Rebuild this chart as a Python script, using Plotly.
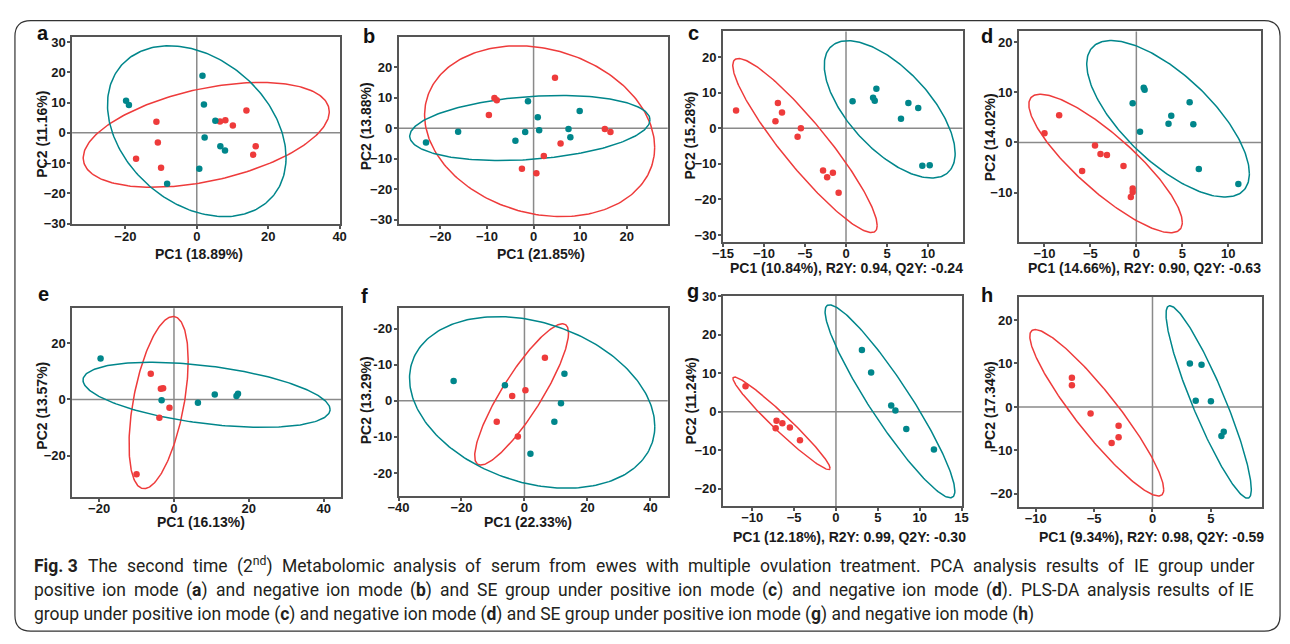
import re
import numpy as np
import plotly.graph_objects as go

W, H = 1290, 644
RED, TEAL = "#EE3B3B", "#00868B"

# ---------------- data ----------------
a_red_x = [-11.3, -10.9, -17.0, -10.0, 6.5, 8.0, 10.1, 13.9, 16.5, 15.8]
a_red_y = [3.7, -3.2, -8.6, -11.5, 3.8, 4.2, 2.4, 7.4, -4.4, -7.2]
a_teal_x = [-19.8, -19.0, 1.6, 2.0, 5.2, 2.2, 6.6, 7.9, 0.7, -8.3]
a_teal_y = [10.6, 9.2, 18.9, 9.4, 4.0, -1.5, -4.4, -5.8, -11.9, -16.8]
# ellipses: [xmin, xmax, ymin, ymax, cos(phase)]
a_red_ell = [-31.8, 37.1, -18.0, 16.7, 0.44]
a_teal_ell = [-25.0, 25.0, -27.7, 28.8, -0.31]

b_red_x = [4.6, -8.4, -7.9, -9.6, 15.3, 16.5, 5.8, 2.2, -2.5, 0.6]
b_red_y = [16.6, 10.0, 9.2, 4.4, -0.2, -1.2, -5.0, -9.1, -13.3, -14.8]
b_teal_x = [-23.1, -16.2, -1.2, 0.9, -1.8, 1.2, -3.9, 9.9, 7.5, 7.9]
b_teal_y = [-4.7, -1.1, 8.9, 3.6, -1.2, -0.6, -4.1, 5.7, -0.2, -2.9]
b_red_ell = [-23.4, 26.0, -29.0, 27.1, -0.19]
b_teal_ell = [-26.6, 25.0, -10.6, 10.8, 0.25]

c_red_x = [-13.4, -8.3, -7.8, -8.6, -5.5, -5.9, -2.8, -1.6, -2.3, -0.9]
c_red_y = [5.0, 7.1, 4.4, 2.0, 0.0, -2.4, -11.9, -12.5, -13.8, -18.1]
c_teal_x = [0.8, 3.7, 3.3, 3.5, 7.6, 8.8, 6.7, 9.3, 10.2]
c_teal_y = [7.6, 11.1, 8.6, 7.7, 7.1, 5.7, 2.7, -10.5, -10.4]
c_red_ell = [-13.8, 3.8, -29.3, 19.6, -0.92]
c_teal_ell = [-2.65, 13.3, -14.0, 24.6, -0.64]

d_red_x = [-8.4, -10.0, -4.5, -3.9, -3.2, -5.9, -1.4, -0.4, -0.4, -0.6]
d_red_y = [5.4, 1.8, -0.6, -2.3, -2.5, -5.7, -4.7, -9.2, -9.9, -10.9]
d_teal_x = [0.8, 0.9, -0.4, 5.8, 3.8, 3.5, 6.2, 0.4, 6.8, 11.1]
d_teal_y = [10.9, 10.5, 7.8, 8.0, 5.3, 3.7, 3.6, 2.1, -5.3, -8.3]
d_red_ell = [-11.7, 5.0, -18.0, 9.6, -0.85]
d_teal_ell = [-5.4, 12.3, -10.9, 20.3, -0.70]

e_red_x = [-6.2, -3.5, -2.9, -1.2, -3.9, -10.0]
e_red_y = [9.1, 3.8, 4.0, -2.9, -6.5, -26.5]
e_teal_x = [-19.6, -3.3, 6.4, 10.9, 16.7, 17.1]
e_teal_y = [14.5, -0.3, -1.2, 1.8, 1.2, 2.0]
e_red_ell = [-12.0, 3.8, -31.6, 29.4, 0.49]
e_teal_ell = [-24.3, 41.7, -9.9, 13.2, -0.45]

f_red_x = [6.5, 0.3, -3.9, -8.8, -2.1]
f_red_y = [11.9, 2.9, 1.3, -5.8, -9.9]
f_teal_x = [-22.5, -6.2, 12.7, 11.6, 9.5, 1.9]
f_teal_y = [5.5, 4.3, 7.5, -0.7, -5.8, -14.7]
f_red_ell = [-15.8, 14.0, -17.8, 21.3, 0.87]
f_teal_ell = [-36.5, 41.4, -24.2, 23.3, -0.28]

g_red_x = [-10.8, -7.1, -6.4, -7.2, -5.5, -4.3]
g_red_y = [6.6, -2.3, -3.0, -4.3, -4.1, -7.4]
g_teal_x = [3.1, 4.2, 6.6, 7.1, 8.4, 11.7]
g_teal_y = [16.0, 10.2, 1.6, 0.3, -4.5, -9.8]
g_red_ell = [-12.3, -0.7, -15.0, 9.0, -0.97]
g_teal_ell = [-1.3, 14.2, -22.3, 27.7, -0.93]

h_red_x = [-6.9, -6.9, -5.3, -2.9, -2.9, -3.5]
h_red_y = [6.7, 5.0, -1.5, -4.3, -7.0, -8.3]
h_teal_x = [3.2, 4.2, 3.7, 5.0, 6.1, 5.9]
h_teal_y = [10.0, 9.7, 1.4, 1.3, -5.7, -6.7]
h_red_ell = [-10.5, 0.96, -20.5, 17.8, -0.92]
h_teal_ell = [1.16, 8.46, -21.0, 23.3, -0.91]

# tick values / labels
a_xticks = [-20, 0, 20, 40]; a_yticks = [-30, -20, -10, 0, 10, 20, 30]
b_xticks = [-20, -10, 0, 10, 20]; b_yticks = [-30, -20, -10, 0, 10, 20]
c_xticks = [-15, -10, -5, 0, 5, 10]; c_yticks = [-30, -20, -10, 0, 10, 20]
d_xticks = [-10, -5, 0, 5, 10]; d_yticks = [-10, 0, 10, 20]
e_xticks = [-20, 0, 20, 40]; e_yticks = [-20, 0, 20]
f_xticks = [-40, -20, 0, 20, 40]; f_yticks = [-20, -10, 0, 10, 20]
f_yticktext = ["-20", "-10", "0", "-10", "-20"]
g_xticks = [-10, -5, 0, 5, 10, 15]; g_yticks = [-20, -10, 0, 10, 20, 30]
h_xticks = [-10, -5, 0, 5]; h_yticks = [-20, -10, 0, 10, 20]

titles_x = ["PC1 (18.89%)", "PC1 (21.85%)", "PC1 (10.84%), R2Y: 0.94, Q2Y: -0.24",
            "PC1 (14.66%), R2Y: 0.90, Q2Y: -0.63", "PC1 (16.13%)", "PC1 (22.33%)",
            "PC1 (12.18%), R2Y: 0.99, Q2Y: -0.30", "PC1 (9.34%), R2Y: 0.98, Q2Y: -0.59"]
titles_y = ["PC2 (11.16%)", "PC2 (13.88%)", "PC2 (15.28%)", "PC2 (14.02%)",
            "PC2 (13.57%)", "PC2 (13.29%)", "PC2 (11.24%)", "PC2 (17.34%)"]
letters = ["a", "b", "c", "d", "e", "f", "g", "h"]

caption = [
    "<b>Fig.\u00a03</b> The second time (2<sup>nd</sup>) Metabolomic analysis of serum from ewes with multiple ovulation treatment. PCA analysis results of IE group under",
    "positive ion mode (<b>a</b>) and negative ion mode (<b>b</b>) and SE group under positive ion mode (<b>c</b>) and negative ion mode (<b>d</b>). PLS-DA analysis results of IE",
    "group under positive ion mode (<b>c</b>) and negative ion mode (<b>d</b>) and SE group under positive ion mode (<b>g</b>) and negative ion mode (<b>h</b>)",
]
caption_justified = [True, True, False]

# ---------------- layout geometry (pixels) ----------------
panels = [
    dict(d=(a_red_x, a_red_y, a_teal_x, a_teal_y, a_red_ell, a_teal_ell), box=(62, 334, 31, 222),
         xr=(-34.9, 40.2), yr=(-30.2, 31.6), xt=a_xticks, yt=a_yticks, ytt=None,
         xtp=(191, 252), ytp=(32, 130), lp=(32, 27)),
    dict(d=(b_red_x, b_red_y, b_teal_x, b_teal_y, b_red_ell, b_teal_ell), box=(393, 666, 31, 222),
         xr=(-29.0, 28.8), yr=(-31.5, 29.9), xt=b_xticks, yt=b_yticks, ytt=None,
         xtp=(537, 253), ytp=(360, 122), lp=(363, 30)),
    dict(d=(c_red_x, c_red_y, c_teal_x, c_teal_y, c_red_ell, c_teal_ell), box=(722, 965, 25, 240),
         xr=(-15.0, 14.2), yr=(-31.9, 27.2), xt=c_xticks, yt=c_yticks, ytt=None,
         xtp=(847, 267), ytp=(689, 131), lp=(692, 27)),
    dict(d=(d_red_x, d_red_y, d_teal_x, d_teal_y, d_red_ell, d_teal_ell), box=(1022, 1268, 25, 240),
         xr=(-12.8, 13.6), yr=(-19.8, 22.1), xt=d_xticks, yt=d_yticks, ytt=None,
         xtp=(1150, 267), ytp=(993, 133), lp=(990, 30)),
    dict(d=(e_red_x, e_red_y, e_teal_x, e_teal_y, e_red_ell, e_teal_ell), box=(62, 335, 308, 501),
         xr=(-27.2, 44.7), yr=(-34.6, 32.3), xt=e_xticks, yt=e_yticks, ytt=None,
         xtp=(193, 526), ytp=(32, 408), lp=(33, 293)),
    dict(d=(f_red_x, f_red_y, f_teal_x, f_teal_y, f_red_ell, f_teal_ell), box=(393, 666, 308, 500),
         xr=(-40.0, 45.5), yr=(-26.4, 25.6), xt=f_xticks, yt=f_yticks, ytt=f_yticktext,
         xtp=(524, 526), ytp=(360, 402), lp=(358, 295)),
    dict(d=(g_red_x, g_red_y, g_teal_x, g_teal_y, g_red_ell, g_teal_ell), box=(722, 964, 295, 510),
         xr=(-13.5, 15.0), yr=(-24.4, 30.1), xt=g_xticks, yt=g_yticks, ytt=None,
         xtp=(850, 542), ytp=(690, 403), lp=(692, 290)),
    dict(d=(h_red_x, h_red_y, h_teal_x, h_teal_y, h_red_ell, h_teal_ell), box=(1022, 1269, 296, 511),
         xr=(-11.45, 9.4), yr=(-23.0, 25.4), xt=h_xticks, yt=h_yticks, ytt=None,
         xtp=(1157, 542), ytp=(993, 407), lp=(990, 294)),
]


def px(x):
    return x / W


def py(y):
    return 1 - y / H


def ellipse(p, n=240):
    xmin, xmax, ymin, ymax, c = p
    cx, cy = (xmin + xmax) / 2, (ymin + ymax) / 2
    rx, ry = (xmax - xmin) / 2, (ymax - ymin) / 2
    d = np.arccos(c)
    t = np.linspace(0, 2 * np.pi, n)
    return cx + rx * np.cos(t), cy + ry * np.cos(t - d)


# approximate Roboto advance widths (em) to justify caption lines
CW = {' ': .248, '\u00a0': .248, '(': .342, ')': .348, '.': .263, ',': .196, '-': .276, ':': .242,
      'A': .652, 'C': .651, 'D': .656, 'E': .568, 'F': .553, 'I': .272, 'L': .538, 'M': .873,
      'P': .632, 'S': .593, 'T': .597,
      'a': .544, 'b': .561, 'c': .523, 'd': .564, 'e': .530, 'f': .347, 'g': .561, 'h': .551,
      'i': .243, 'j': .239, 'k': .507, 'l': .243, 'm': .876, 'n': .552, 'o': .570, 'p': .561,
      'q': .568, 'r': .339, 's': .516, 't': .327, 'u': .551, 'v': .485, 'w': .751, 'x': .496,
      'y': .474, 'z': .496}


def est_w(html, size):
    bold = sup = False
    w = 0.0
    for tok in re.findall(r"<[^>]+>|.", html):
        if tok.startswith("<"):
            tl = tok.lower()
            bold = True if tl == "<b>" else (False if tl == "</b>" else bold)
            sup = True if tl == "<sup>" else (False if tl == "</sup>" else sup)
            continue
        cw = .561 if tok.isdigit() else CW.get(tok, .55)
        if bold:
            cw *= 1.05
        if sup:
            cw *= 0.7
        w += cw
    return w * size


FONT = "Liberation Sans"
CAPFONT = "Roboto"
CAPSIZE = 17.5
AX = "#555555"
fig = go.Figure()
shapes = []
annotations = []
layout = {}

for i, p in enumerate(panels):
    n = i + 1
    xa = "x" if n == 1 else f"x{n}"
    ya = "y" if n == 1 else f"y{n}"
    rx_, ry_, tx_, ty_, re_, te_ = p["d"]
    l, r, t, b = p["box"]
    ex, ey = ellipse(re_)
    fig.add_trace(go.Scatter(x=ex, y=ey, mode="lines", line=dict(color=RED, width=1.5),
                             xaxis=xa, yaxis=ya, hoverinfo="skip"))
    ex, ey = ellipse(te_)
    fig.add_trace(go.Scatter(x=ex, y=ey, mode="lines", line=dict(color=TEAL, width=1.5),
                             xaxis=xa, yaxis=ya, hoverinfo="skip"))
    fig.add_trace(go.Scatter(x=rx_, y=ry_, mode="markers", marker=dict(color=RED, size=6.5),
                             xaxis=xa, yaxis=ya))
    fig.add_trace(go.Scatter(x=tx_, y=ty_, mode="markers", marker=dict(color=TEAL, size=6.5),
                             xaxis=xa, yaxis=ya))
    common = dict(showline=True, mirror=True, linecolor=AX, linewidth=1.5, ticks="outside",
                  ticklen=3, tickwidth=1.5, tickcolor=AX, showgrid=False, zeroline=False,
                  tickfont=dict(family=FONT, size=13, color="#1a1a1a", weight="bold"),
                  fixedrange=True)
    layout["xaxis" if n == 1 else f"xaxis{n}"] = dict(
        domain=[px(l), px(r)], range=list(p["xr"]), anchor=ya, tickvals=p["xt"],
        ticklabelstandoff=-4, **common)
    yd = dict(domain=[py(b), py(t)], range=list(p["yr"]), anchor=xa, tickvals=p["yt"],
              ticklabelstandoff=-1, **common)
    if p["ytt"] is not None:
        yd["ticktext"] = p["ytt"]
    layout["yaxis" if n == 1 else f"yaxis{n}"] = yd
    shapes.append(dict(type="line", xref=xa, yref=f"{ya} domain", x0=0, x1=0, y0=0, y1=1,
                       line=dict(color="#8a8a8a", width=1.5), layer="below"))
    shapes.append(dict(type="line", xref=f"{xa} domain", yref=ya, x0=0, x1=1, y0=0, y1=0,
                       line=dict(color="#8a8a8a", width=1.5), layer="below"))
    annotations.append(dict(text=titles_x[i], x=px(p["xtp"][0]), y=py(p["xtp"][1]),
                            xref="paper", yref="paper", showarrow=False, xanchor="center",
                            yanchor="middle",
                            font=dict(family=FONT, size=14, color="#1a1a1a", weight="bold")))
    annotations.append(dict(text=titles_y[i], x=px(p["ytp"][0]), y=py(p["ytp"][1]),
                            xref="paper", yref="paper", showarrow=False, xanchor="center",
                            yanchor="middle", textangle=-90,
                            font=dict(family=FONT, size=14, color="#1a1a1a", weight="bold")))
    annotations.append(dict(text=letters[i], x=px(p["lp"][0]), y=py(p["lp"][1]),
                            xref="paper", yref="paper", showarrow=False, xanchor="center",
                            yanchor="middle",
                            font=dict(family=FONT, size=20, color="#111111", weight="bold")))

# caption (first two lines justified between the text margins)
CAP_L, CAP_R = 22, 1262
cap_y = [571, 596, 621]
capfont = dict(family=CAPFONT, size=CAPSIZE, color="#231F20")
for txt, yy, just in zip(caption, cap_y, caption_justified):
    if not just:
        annotations.append(dict(text=txt, x=px(CAP_L), y=py(yy), xref="paper", yref="paper",
                                showarrow=False, xanchor="left", yanchor="middle",
                                borderpad=0, font=capfont))
        continue
    words = txt.split(" ")
    ws = [est_w(w_, CAPSIZE) for w_ in words]
    gap = (CAP_R - CAP_L - sum(ws)) / (len(words) - 1)
    xpos = CAP_L
    for k, (w_, wd) in enumerate(zip(words, ws)):
        last = k == len(words) - 1
        annotations.append(dict(text=w_, x=px(CAP_R if last else xpos), y=py(yy),
                                xref="paper", yref="paper", showarrow=False,
                                xanchor="right" if last else "left", yanchor="middle",
                                borderpad=0, font=capfont))
        xpos += wd + gap

# rounded outer border
x0, x1, y0, y1, rr = 4, 1287, 14, 638, 16
path = (f"M {px(x0 + rr)} {py(y0)} L {px(x1 - rr)} {py(y0)} Q {px(x1)} {py(y0)} {px(x1)} {py(y0 + rr)} "
        f"L {px(x1)} {py(y1 - rr)} Q {px(x1)} {py(y1)} {px(x1 - rr)} {py(y1)} "
        f"L {px(x0 + rr)} {py(y1)} Q {px(x0)} {py(y1)} {px(x0)} {py(y1 - rr)} "
        f"L {px(x0)} {py(y0 + rr)} Q {px(x0)} {py(y0)} {px(x0 + rr)} {py(y0)} Z")
shapes.append(dict(type="path", xref="paper", yref="paper", path=path,
                   line=dict(color="#333333", width=1.2)))

fig.update_layout(width=W, height=H, margin=dict(l=0, r=0, t=0, b=0), autosize=False,
                  showlegend=False, plot_bgcolor="white", paper_bgcolor="white",
                  shapes=shapes, annotations=annotations, **layout)

fig.write_html("out.html")
